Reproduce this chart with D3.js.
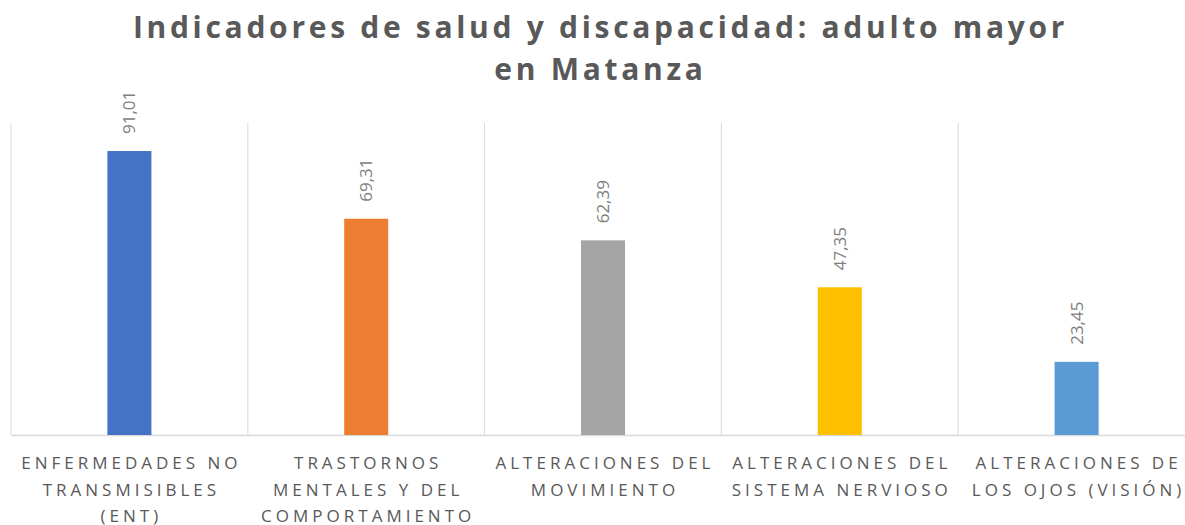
<!DOCTYPE html>
<html>
<head>
<meta charset="utf-8">
<script src="https://cdn.jsdelivr.net/npm/d3@7"></script>
<style>
  body { margin: 0; background: #fff; }
  text { font-family: "Open Sans", sans-serif; }
</style>
</head>
<body>
<div id="chart"></div>
<script>
const categories = ["ENT", "TMC", "AMOV", "ASN", "AOV"];
const categoryLines = [
    ["ENFERMEDADES NO", "TRANSMISIBLES", "(ENT)"],
    ["TRASTORNOS", "MENTALES Y DEL", "COMPORTAMIENTO"],
    ["ALTERACIONES DEL", "MOVIMIENTO"],
    ["ALTERACIONES DEL", "SISTEMA NERVIOSO"],
    ["ALTERACIONES DE", "LOS OJOS (VISIÓN)"]
];
const values = [91.01, 69.31, 62.39, 47.35, 23.45];
const colors = ["#4472C4", "#ED7D31", "#A5A5A5", "#FFC000", "#5B9BD5"];
const titleLines = ["Indicadores de salud y discapacidad: adulto mayor", "en Matanza"];

const width = 1185;
const height = 525;
const margin = { top: 123, right: -10, bottom: 90, left: 11 };

const svg = d3.select("#chart")
    .append("svg")
    .attr("width", width)
    .attr("height", height);

// Title
svg.append("g")
    .selectAll("text")
    .data(titleLines)
    .enter()
    .append("text")
    .attr("x", width / 2 + 8)
    .attr("y", (_, i) => 38 + i * 42)
    .attr("text-anchor", "middle")
    .attr("font-size", 30)
    .attr("font-weight", "bold")
    .attr("letter-spacing", 3.7)
    .attr("fill", "#595959")
    .text(d => d);

const xScale = d3.scaleBand()
    .domain(categories)
    .range([margin.left, width - margin.right])
    .paddingInner(0.814)
    .paddingOuter(0.407);

const yScale = d3.scaleLinear()
    .domain([0, 100])
    .range([height - margin.bottom, margin.top]);

// Vertical separators between categories
const step = xScale.step();
const bandStarts = categories.map(c => xScale(c) - xScale.paddingOuter() * step);
svg.append("g")
    .selectAll("line")
    .data(bandStarts)
    .enter()
    .append("line")
    .attr("x1", d => d)
    .attr("x2", d => d)
    .attr("y1", yScale(100))
    .attr("y2", yScale(0))
    .attr("stroke", "#d9d9d9")
    .attr("stroke-width", 1);

// Baseline
svg.append("line")
    .attr("x1", margin.left)
    .attr("x2", width - margin.right)
    .attr("y1", yScale(0) + 0.5)
    .attr("y2", yScale(0) + 0.5)
    .attr("stroke", "#d9d9d9")
    .attr("stroke-width", 1.5);

// Bars
svg.selectAll(".bar")
    .data(values)
    .enter()
    .append("rect")
    .attr("class", "bar")
    .attr("x", (_, i) => xScale(categories[i]))
    .attr("y", d => yScale(d))
    .attr("width", xScale.bandwidth())
    .attr("height", d => yScale(0) - yScale(d))
    .attr("fill", (_, i) => colors[i]);

// Value labels (rotated)
svg.selectAll(".value")
    .data(values)
    .enter()
    .append("text")
    .attr("class", "value")
    .attr("transform", (d, i) =>
        `translate(${xScale(categories[i]) + xScale.bandwidth() / 2 + 6}, ${yScale(d) - 17}) rotate(-90)`)
    .attr("font-size", 17)
    .attr("fill", "#7f7f7f")
    .text(d => d.toFixed(2).replace(".", ","));

// Category labels
const labels = svg.append("g")
    .selectAll("text")
    .data(categoryLines)
    .enter()
    .append("text")
    .attr("x", (_, i) => xScale(categories[i]) + xScale.bandwidth() / 2 + 2)
    .attr("y", 469)
    .attr("text-anchor", "middle")
    .attr("font-size", 17)
    .attr("letter-spacing", 4)
    .attr("fill", "#595959");

labels.selectAll("tspan")
    .data(d => d)
    .enter()
    .append("tspan")
    .attr("x", function () { return d3.select(this.parentNode).attr("x"); })
    .attr("dy", (_, i) => i === 0 ? 0 : 26.5)
    .text(d => d);
</script>
</body>
</html>
